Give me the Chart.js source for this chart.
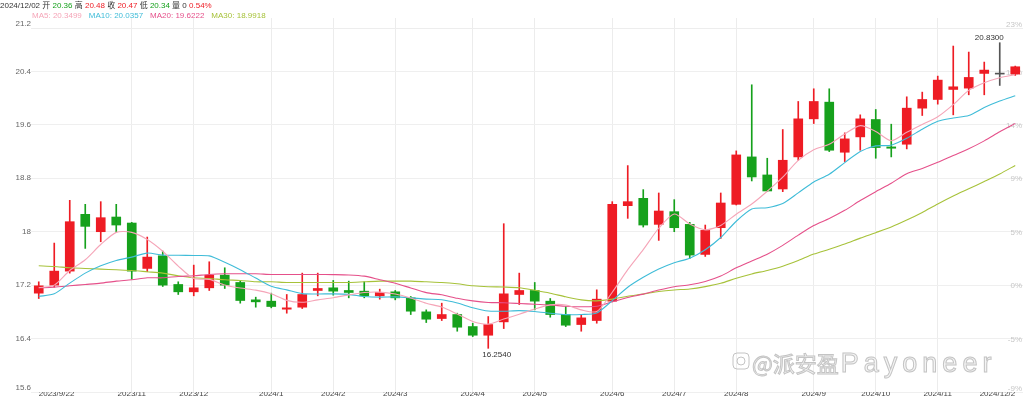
<!DOCTYPE html>
<html>
<head>
<meta charset="utf-8">
<script src="https://cdn.jsdelivr.net/npm/chart.js@4.4.1/dist/chart.umd.min.js"></script>
<style>
  html, body { margin: 0; padding: 0; background: #fff; }
  #wrap { width: 1024px; height: 399px; }
</style>
</head>
<body>
<div id="wrap"><canvas id="kline" width="1024" height="399"></canvas></div>
<script>
// weekly candles, 2023/9/22 .. 2024/12/2
const opens = [17.08, 17.20, 17.41, 18.26, 18.00, 18.22, 18.13, 17.45, 17.64, 17.21,
  17.10, 17.16, 17.35, 17.24, 16.98, 16.96, 16.84, 16.87, 17.12, 17.16,
  17.12, 17.11, 17.04, 17.10, 17.01, 16.80, 16.70, 16.76, 16.58, 16.45,
  16.65, 17.06, 17.12, 16.96, 16.76, 16.61, 16.67, 16.96, 18.39, 18.50,
  18.11, 18.30, 18.11, 17.66, 18.06, 18.41, 19.12, 18.85, 18.64, 19.12,
  19.69, 19.94, 19.19, 19.42, 19.68, 19.27, 19.31, 19.85, 19.98, 20.13,
  20.15, 20.37, 20.36, 20.36];
const highs = [17.25, 17.83, 18.47, 18.41, 18.45, 18.41, 18.14, 17.92, 17.71, 17.25,
  17.50, 17.55, 17.46, 17.27, 17.02, 17.08, 17.06, 17.38, 17.38, 17.27,
  17.26, 17.25, 17.14, 17.12, 17.03, 16.83, 16.93, 16.78, 16.63, 16.73,
  18.12, 17.38, 17.24, 17.00, 16.88, 16.75, 17.13, 18.45, 18.99, 18.63,
  18.58, 18.48, 18.14, 18.10, 18.58, 19.21, 20.20, 19.10, 19.53, 19.95,
  20.14, 20.14, 19.48, 19.75, 19.83, 19.61, 20.02, 20.09, 20.33, 20.78,
  20.69, 20.54, 20.83, 20.48];
const lows = [17.00, 17.17, 17.38, 17.75, 17.85, 17.99, 17.29, 17.40, 17.18, 17.06,
  17.04, 17.12, 17.15, 16.93, 16.87, 16.86, 16.78, 16.85, 17.04, 17.05,
  17.01, 17.01, 16.99, 16.98, 16.76, 16.64, 16.67, 16.51, 16.43, 16.254,
  16.55, 16.91, 16.83, 16.72, 16.58, 16.51, 16.63, 16.95, 18.20, 18.07,
  17.87, 18.00, 17.60, 17.63, 17.90, 18.40, 18.76, 18.60, 18.60, 19.07,
  19.62, 19.20, 19.05, 19.22, 19.10, 19.12, 19.24, 19.74, 19.91, 19.75,
  20.05, 20.05, 20.19, 20.34];
const closes = [17.19, 17.41, 18.15, 18.08, 18.21, 18.10, 17.41, 17.62, 17.20, 17.10,
  17.16, 17.35, 17.20, 16.97, 16.95, 16.88, 16.86, 17.06, 17.15, 17.11,
  17.09, 17.04, 17.09, 17.01, 16.81, 16.69, 16.76, 16.57, 16.45, 16.61,
  17.07, 17.12, 16.96, 16.76, 16.60, 16.71, 16.99, 18.41, 18.45, 18.10,
  18.31, 18.06, 17.65, 18.02, 18.43, 19.15, 18.82, 18.61, 19.07, 19.69,
  19.95, 19.22, 19.39, 19.69, 19.26, 19.25, 19.85, 19.98, 20.27, 20.17,
  20.31, 20.42, 20.36, 20.47];

const ma5 = [17.16, 17.20, 17.42, 17.58, 17.808, 17.99, 17.99, 17.884, 17.708, 17.486,
  17.298, 17.286, 17.202, 17.156, 17.126, 17.07, 16.972, 16.944, 16.98, 17.012,
  17.054, 17.09, 17.096, 17.068, 17.008, 16.928, 16.872, 16.768, 16.656, 16.616,
  16.692, 16.764, 16.842, 16.904, 16.902, 16.83, 16.804, 17.094, 17.432, 17.732,
  18.052, 18.266, 18.114, 18.028, 18.094, 18.262, 18.414, 18.606, 18.816, 19.068,
  19.228, 19.308, 19.464, 19.588, 19.502, 19.362, 19.488, 19.606, 19.722, 19.904,
  20.116, 20.23, 20.306, 20.3499];
const ma10 = [17.03, 17.07, 17.23, 17.38, 17.49, 17.57, 17.62, 17.68, 17.65, 17.647,
  17.644, 17.638, 17.543, 17.432, 17.306, 17.184, 17.129, 17.073, 17.068, 17.069,
  17.062, 17.031, 17.02, 17.024, 17.01, 16.991, 16.981, 16.932, 16.862, 16.812,
  16.81, 16.818, 16.805, 16.78, 16.759, 16.761, 16.784, 16.968, 17.168, 17.317,
  17.441, 17.535, 17.604, 17.73, 17.913, 18.157, 18.34, 18.36, 18.422, 18.581,
  18.745, 18.861, 19.035, 19.202, 19.285, 19.295, 19.398, 19.535, 19.655, 19.703,
  19.739, 19.859, 19.956, 20.0357];
const ma20 = [17.16, 17.17, 17.19, 17.21, 17.23, 17.26, 17.28, 17.31, 17.31, 17.33,
  17.34, 17.36, 17.37, 17.37, 17.37, 17.36, 17.36, 17.36, 17.36, 17.358,
  17.353, 17.335, 17.282, 17.228, 17.158, 17.088, 17.055, 17.003, 16.965, 16.941,
  16.936, 16.925, 16.913, 16.902, 16.885, 16.876, 16.883, 16.95, 17.015, 17.065,
  17.126, 17.177, 17.205, 17.255, 17.336, 17.459, 17.562, 17.664, 17.795, 17.949,
  18.093, 18.198, 18.32, 18.466, 18.599, 18.726, 18.869, 18.948, 19.039, 19.142,
  19.242, 19.36, 19.496, 19.6222];
const ma30 = [17.49, 17.48, 17.46, 17.45, 17.44, 17.43, 17.42, 17.40, 17.38, 17.34,
  17.31, 17.30, 17.28, 17.27, 17.25, 17.25, 17.24, 17.24, 17.24, 17.24,
  17.24, 17.25, 17.26, 17.26, 17.26, 17.25, 17.24, 17.22, 17.19, 17.176,
  17.172, 17.162, 17.123, 17.079, 17.025, 16.979, 16.965, 16.991, 17.033, 17.066,
  17.104, 17.128, 17.143, 17.178, 17.227, 17.303, 17.368, 17.42, 17.484, 17.57,
  17.665, 17.738, 17.815, 17.904, 17.986, 18.071, 18.174, 18.288, 18.415, 18.534,
  18.642, 18.752, 18.865, 18.9918];

const tickPos = [0, 6, 10, 15, 19, 23, 28, 32, 37, 41, 45, 50, 54, 58, 63];
const tickText = ['2023/9/22', '2023/11', '2023/12', '2024/1', '2024/2', '2024/3', '2024/4',
  '2024/5', '2024/6', '2024/7', '2024/8', '2024/9', '2024/10', '2024/11', '2024/12/2'];
const yTicks = [15.6, 16.4, 17.2, 18, 18.8, 19.6, 20.4, 21.2];
const pctTicks = ['-9%', '-5%', '0%', '5%', '9%', '14%', '19%', '23%'];
const lastDate = '2024/12/02';
const lastVolume = '0';

const UP = '#ee1c24', DOWN = '#16a11c', FLAT = '#555555';
const FONT = '"Liberation Sans", Arial, "Noto Sans CJK SC", sans-serif';
const maColors = ['#f5a5b8', '#3fbcd8', '#e5508a', '#a7c23a'];
const maNames = ['MA5', 'MA10', 'MA20', 'MA30'];
const maSeries = [ma5, ma10, ma20, ma30];

function candleColor(i) {
  if (closes[i] > opens[i]) return UP;
  if (closes[i] < opens[i]) return DOWN;
  return FLAT;
}
const colors = opens.map((o, i) => candleColor(i));

function drawParts(ctx, parts, x, y) {
  parts.forEach(p => {
    ctx.fillStyle = p[1];
    ctx.fillText(p[0], x, y);
    x += ctx.measureText(p[0]).width + (p[2] || 0);
  });
}

const overlay = {
  id: 'overlay',
  beforeDatasetsDraw(chart) {
    const { ctx, chartArea: a, scales: { y } } = chart;
    ctx.save();
    // thin line under the info rows
    ctx.strokeStyle = '#ededed';
    ctx.lineWidth = 1;
    ctx.beginPath();
    ctx.moveTo(a.left, 28.5);
    ctx.lineTo(a.right, 28.5);
    ctx.stroke();

    // percent scale drawn inside the plot on the right
    ctx.font = '8px ' + FONT;
    ctx.fillStyle = '#c6c6c6';
    ctx.textAlign = 'right';
    ctx.textBaseline = 'middle';
    yTicks.forEach((v, k) => {
      const py = Math.min(Math.max(y.getPixelForValue(v), a.top + 6), a.bottom - 4);
      ctx.fillText(pctTicks[k], a.right - 1, py + 1);
    });

    // watermark
    const wx = 752, wy = 372;
    ctx.strokeStyle = '#c4c4c4';
    ctx.fillStyle = '#f4f4f4';
    ctx.lineWidth = 1;
    ctx.beginPath();
    ctx.roundRect(733, 353, 16, 16, 4);
    ctx.stroke();
    ctx.beginPath();
    ctx.arc(741, 361, 4, 0, Math.PI * 2);
    ctx.stroke();
    ctx.textAlign = 'left';
    ctx.textBaseline = 'alphabetic';
    ctx.font = '22px "Noto Sans CJK SC", sans-serif';
    ctx.fillText('@派安盈', wx, wy);
    ctx.strokeText('@派安盈', wx, wy);
    const w1 = ctx.measureText('@派安盈').width;
    ctx.font = '27px "Liberation Sans", Arial, sans-serif';
    ctx.letterSpacing = '5px';
    ctx.fillText('Payoneer', wx + w1 + 2, wy);
    ctx.strokeText('Payoneer', wx + w1 + 2, wy);
    ctx.restore();
  },
  afterDraw(chart) {
    const { ctx, chartArea: a, scales: { x, y } } = chart;
    const n = closes.length - 1;
    ctx.save();
    ctx.font = '8px ' + FONT;
    ctx.textBaseline = 'middle';
    ctx.textAlign = 'left';

    // info row for the last candle
    const chg = ((closes[n] - closes[n - 1]) / closes[n - 1] * 100).toFixed(2) + '%';
    drawParts(ctx, [
      [lastDate + ' 开 ', '#333'], [opens[n].toFixed(2), DOWN], [' 高 ', '#333'],
      [highs[n].toFixed(2), UP], [' 收 ', '#333'], [closes[n].toFixed(2), UP],
      [' 低 ', '#333'], [lows[n].toFixed(2), DOWN], [' 量 ' + lastVolume + ' ', '#333'], [chg, UP]
    ], 0, 6);

    // moving average legend
    drawParts(ctx, maNames.map((m, k) =>
      [m + ': ' + maSeries[k][n].toFixed(4), maColors[k], 7]), 32, 16);

    // price labels, kept inside the plot height
    ctx.fillStyle = '#666';
    ctx.textAlign = 'right';
    yTicks.forEach(v => {
      const py = Math.min(Math.max(y.getPixelForValue(v), a.top + 6), a.bottom - 4);
      ctx.fillText(String(v), a.left, py);
    });

    // highest high and lowest low
    const hi = Math.max(...highs), iHi = highs.indexOf(hi);
    const lo = Math.min(...lows), iLo = lows.indexOf(lo);
    ctx.fillStyle = '#333';
    ctx.textAlign = 'right';
    ctx.textBaseline = 'bottom';
    ctx.fillText(hi.toFixed(4), x.getPixelForValue(iHi) + 4, y.getPixelForValue(hi) - 1);
    ctx.textAlign = 'left';
    ctx.textBaseline = 'top';
    ctx.fillText(lo.toFixed(4), x.getPixelForValue(iLo) - 6, y.getPixelForValue(lo) + 2);
    ctx.restore();
  }
};

const lineSets = maSeries.map((s, k) => ({
  type: 'line',
  label: maNames[k],
  data: s,
  borderColor: maColors[k],
  borderWidth: 1.1,
  pointRadius: 0,
  tension: 0.25,
  order: 0
}));

new Chart(document.getElementById('kline'), {
  data: {
    labels: closes.map((c, i) => String(i)),
    datasets: [
      {
        type: 'bar', label: 'wick',
        data: lows.map((l, i) => [l, highs[i]]),
        backgroundColor: colors,
        barThickness: 1, grouped: false, order: 3
      },
      {
        type: 'bar', label: 'body',
        data: opens.map((o, i) => [o, closes[i]]),
        backgroundColor: colors,
        barThickness: 9, minBarLength: 1, grouped: false, order: 2
      },
      ...lineSets
    ]
  },
  options: {
    responsive: false,
    animation: false,
    devicePixelRatio: 1,
    layout: { padding: { top: 18, right: 1, left: 0, bottom: 0 } },
    plugins: { legend: { display: false }, tooltip: { enabled: false } },
    scales: {
      x: {
        type: 'category',
        offset: true,
        grid: {
          offset: false,
          drawTicks: false,
          color: c => (tickPos.includes(c.index) && c.index !== 0 && c.index !== closes.length - 1)
            ? '#ececec' : 'rgba(0,0,0,0)'
        },
        border: { display: false },
        ticks: {
          autoSkip: false, maxRotation: 0, minRotation: 0,
          padding: -3, align: 'inner', color: '#444',
          font: { size: 8, family: FONT },
          callback: (v, i) => {
            const k = tickPos.indexOf(i);
            return k >= 0 ? tickText[k] : '';
          }
        },
        afterFit: s => { s.height = 7; }
      },
      y: {
        position: 'left',
        min: 15.6, max: 21.2,
        afterBuildTicks: s => { s.ticks = yTicks.map(v => ({ value: v })); },
        ticks: { display: false },
        grid: {
          drawTicks: false,
          color: c => c.index === yTicks.length - 1 ? 'rgba(0,0,0,0)' : '#efefef'
        },
        border: { display: false },
        afterFit: s => { s.width = 31; }
      }
    }
  },
  plugins: [overlay]
});
</script>
</body>
</html>
